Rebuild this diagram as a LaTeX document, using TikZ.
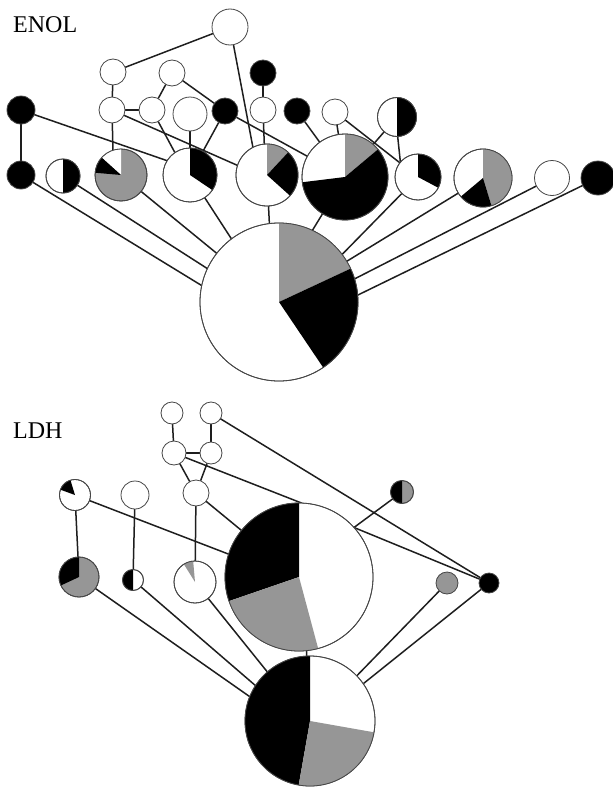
\documentclass[tikz,border=0pt]{standalone}
\usepackage{fontspec}
\setmainfont{Liberation Serif}
\usetikzlibrary{backgrounds}
\definecolor{pgray}{RGB}{150,150,150}
\definecolor{ringc}{RGB}{70,70,70}
\definecolor{edgec}{RGB}{30,30,30}
\tikzset{
  hap/.style={circle,draw=ringc,line width=0.8pt,inner sep=0pt,outer sep=0pt,minimum size=#1},
  wh/.style={fill=white},
  bl/.style={fill=black},
  gr/.style={fill=pgray},
  link/.style={draw=edgec,line width=1.5pt},
  lbl/.style={font=\fontsize{24}{28}\selectfont,anchor=base west,inner sep=0pt}
}
\newcommand\slice[5]{\fill[#5] (#1.center) -- ++(#3:#2pt) arc[start angle=#3,end angle=#4,radius=#2pt] -- cycle;}
\newcommand\ringo[2]{\draw[ringc,line width=0.8pt] (#1.center) circle[radius=#2pt];}
\begin{document}
\begin{tikzpicture}[x=1pt,y=1pt]
\useasboundingbox (0,0) rectangle (613,-787);

% ---------------- ENOL ----------------
\node[lbl] (enol) at (13,-32) {ENOL};
\node[hap=36pt,wh] (T) at (230,-27) {};
\node[hap=26pt,wh] (A) at (113,-72) {};
\node[hap=26pt,wh] (B) at (172,-73) {};
\node[hap=26pt,bl] (C) at (263,-73) {};
\node[hap=28pt,bl] (D) at (21,-110) {};
\node[hap=26pt,wh] (E) at (112,-110) {};
\node[hap=26pt,wh] (F) at (152,-110) {};
\node[hap=34pt,wh] (G) at (190,-114) {};
\node[hap=26pt,bl] (H) at (225,-111) {};
\node[hap=26pt,wh] (I) at (263,-110) {};
\node[hap=26pt,bl] (J) at (297,-111) {};
\node[hap=26pt,wh] (K) at (335,-112) {};
\node[hap=39pt,wh] (L) at (397,-117) {};
\node[hap=28pt,bl] (M) at (21,-175) {};
\node[hap=34pt,wh] (N) at (63,-176) {};
\node[hap=52pt,gr] (O) at (121,-175) {};
\node[hap=54pt,wh] (P) at (190,-175) {};
\node[hap=62pt,wh] (Q) at (267,-175) {};
\node[hap=86pt,wh] (R) at (345,-177) {};
\node[hap=46pt,wh] (S) at (418,-177) {};
\node[hap=58pt,wh] (U) at (483,-178) {};
\node[hap=35pt,wh] (V) at (552,-178) {};
\node[hap=34pt,bl] (W) at (598,-178) {};
\node[hap=158pt,wh] (Z) at (279,-302) {};

\slice{L}{19.5}{-90}{90}{black}\ringo{L}{19.5}
\slice{N}{17}{-90}{90}{black}\ringo{N}{17}
\slice{O}{26}{90}{138}{white}\slice{O}{26}{138}{175}{black}\ringo{O}{26}
\slice{P}{27}{-34}{90}{black}\ringo{P}{27}
\slice{Q}{31}{47}{90}{pgray}\slice{Q}{31}{-42}{47}{black}\ringo{Q}{31}
\slice{R}{43}{40}{90}{pgray}\slice{R}{43}{-173}{40}{black}\ringo{R}{43}
\slice{S}{23}{-28}{90}{black}\ringo{S}{23}
\slice{U}{29}{-73}{90}{pgray}\slice{U}{29}{-140}{-73}{black}\ringo{U}{29}
\slice{Z}{79}{25}{90}{pgray}\slice{Z}{79}{-56}{25}{black}\ringo{Z}{79}

\begin{scope}[on background layer]
\draw[link] (T) -- (A);
\draw[link] (T.-79) -- (Q.117);
\draw[link] (A) -- (E);
\draw[link] (E) -- (F);
\draw[link] (F) -- (B);
\draw[link] (B) -- (H);
\draw[link] (H) -- (R);
\draw[link] (H) -- (P);
\draw[link] (C) -- (I);
\draw[link] (I) -- (Q.95);
\draw[link] (E) -- (O.108);
\draw[link] (E) -- (Q.162);
\draw[link] (D) -- (P.148);
\draw[link] (F) -- (P.124);
\draw[link] (G) -- (P);
\draw[link] (D) -- (M);
\draw[link] (J) -- (R);
\draw[link] (K) -- (R);
\draw[link] (K) -- (S);
\draw[link] (L) -- (R);
\draw[link] (L.-88) -- (S.140);
\draw[link] (M) -- (Z.168);
\draw[link] (N) -- (Z.155);
\draw[link] (O) -- (Z.142);
\draw[link] (P) -- (Z.127);
\draw[link] (Q) -- (Z.97);
\draw[link] (R) -- (Z.65);
\draw[link] (S) -- (Z.37);
\draw[link] (U) -- (Z.31);
\draw[link] (V) -- (Z.17);
\draw[link] (W) -- (Z.5);
\end{scope}

% ---------------- LDH ----------------
\node[lbl] (ldh) at (13,-438) {LDH};
\node[hap=22pt,wh] (a) at (172,-413) {};
\node[hap=22pt,wh] (b) at (211,-413) {};
\node[hap=24pt,wh] (c) at (174,-453) {};
\node[hap=22pt,wh] (d) at (211,-453) {};
\node[hap=26pt,wh] (e) at (196,-493) {};
\node[hap=31pt,wh] (f) at (75,-495) {};
\node[hap=28pt,wh] (g) at (135,-495) {};
\node[hap=40pt,gr] (h) at (79,-577) {};
\node[hap=21pt,wh] (i) at (133,-580) {};
\node[hap=42pt,wh] (j) at (195,-582) {};
\node[hap=148pt,wh] (X) at (299,-577) {};
\node[hap=130pt,wh] (Y) at (310,-721) {};
\node[hap=23pt,gr] (k) at (402,-492) {};
\node[hap=22pt,gr] (l) at (447,-583) {};
\node[hap=20pt,bl] (m) at (489,-583) {};

\slice{f}{15.5}{107}{160}{black}\ringo{f}{15.5}
\slice{h}{20}{90}{205}{black}\ringo{h}{20}
\slice{i}{10.5}{90}{270}{black}\ringo{i}{10.5}
\slice{j}{21}{95}{122}{pgray}\ringo{j}{21}
\slice{k}{11.5}{90}{270}{black}\ringo{k}{11.5}
\slice{X}{74}{90}{199}{black}\slice{X}{74}{199}{285}{pgray}\ringo{X}{74}
\slice{Y}{65}{90}{260}{black}\slice{Y}{65}{260}{350}{pgray}\ringo{Y}{65}

\begin{scope}[on background layer]
\draw[link] (a) -- (c);
\draw[link] (b) -- (d);
\draw[link] (c) -- (d);
\draw[link] (c) -- (e);
\draw[link] (d) -- (e);
\draw[link] (b) -- (m);
\draw[link] (c) -- (X.88);
\draw[link] (e) -- (X.141);
\draw[link] (f) -- (X.162);
\draw[link] (X.42) -- (k);
\draw[link] (X.42) -- (m);
\draw[link] (e) -- (j);
\draw[link] (f) -- (h);
\draw[link] (g) -- (i);
\draw[link] (X.-84) -- (Y.93);
\draw[link] (h) -- (Y.158);
\draw[link] (i) -- (Y.147);
\draw[link] (j) -- (Y.131);
\draw[link] (l) -- (Y.44);
\draw[link] (m) -- (Y.35);
\end{scope}
\end{tikzpicture}
\end{document}
